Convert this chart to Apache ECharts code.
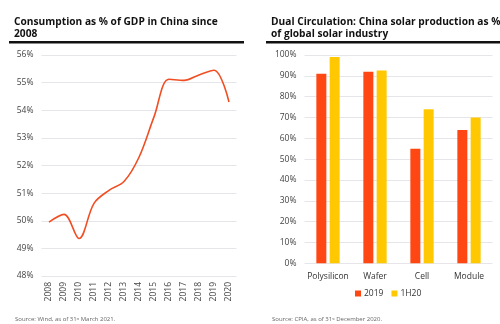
<!DOCTYPE html>
<html>
<head>
<meta charset="utf-8">
<script src="https://cdn.jsdelivr.net/npm/echarts@6/dist/echarts.min.js"></script>
<style>html,body{margin:0;padding:0;background:#fff;}#c{width:500px;height:324px;}</style>
</head>
<body>
<div id="c"></div>
<script>
var years = ['2008','2009','2010','2011','2012','2013','2014','2015','2016','2017','2018','2019','2020'];
var consumption = [49.95, 50.23, 49.36, 50.63, 51.1, 51.42, 52.3, 53.76, 55.12, 55.08, 55.28, 55.45, 54.3];
var yTicksLeft = [48, 49, 50, 51, 52, 53, 54, 55, 56];
var stages = ['Polysilicon', 'Wafer', 'Cell', 'Module'];
var share2019 = [91, 92, 55, 64];
var share1H20 = [99, 92.5, 74, 70];

var chart = echarts.init(document.getElementById('c'));
var axisTxt = {color: '#444', fontSize: 8.5, fontFamily: 'Open Sans'};
chart.setOption({
  animation: false,
  backgroundColor: '#fff',
  title: [
    {text: 'Consumption as % of GDP in China since\n2008', left: 9, top: 11,
     textStyle: {fontSize: 10.2, fontWeight: 'bold', color: '#111', fontFamily: 'Open Sans', lineHeight: 12}},
    {text: 'Dual Circulation: China solar production as %\nof global solar industry', left: 266, top: 11,
     textStyle: {fontSize: 10.2, fontWeight: 'bold', color: '#111', fontFamily: 'Open Sans', lineHeight: 12}},
    {text: 'Source: Wind, as of 31\u02e2\u1d57 March 2021.', left: 10, top: 311,
     textStyle: {fontSize: 6, fontWeight: 'normal', color: '#666', fontFamily: 'Open Sans'}},
    {text: 'Source: CPIA, as of 31\u02e2\u1d57 December 2020.', left: 267, top: 311,
     textStyle: {fontSize: 6, fontWeight: 'normal', color: '#666', fontFamily: 'Open Sans'}}
  ],
  graphic: [
    {type: 'rect', shape: {x: 9, y: 41, width: 235, height: 2.5}, style: {fill: '#111'}},
    {type: 'rect', shape: {x: 266, y: 41, width: 234, height: 2.5}, style: {fill: '#111'}}
  ],
  legend: {
    data: ['2019', '1H20'], left: 350, top: 284, itemWidth: 6, itemHeight: 6, itemGap: 8,
    icon: 'rect', textStyle: {fontSize: 8.5, color: '#333', fontFamily: 'Open Sans', padding: [0, 0, 0, -2]}
  },
  grid: [
    {left: 41.5, top: 55, width: 195, height: 221},
    {left: 304.5, top: 55, width: 188, height: 208.3}
  ],
  xAxis: [
    {type: 'category', gridIndex: 0, data: years, boundaryGap: true,
     axisLine: {show: false}, axisTick: {show: false},
     axisLabel: Object.assign({rotate: 90, margin: 6, interval: 0}, axisTxt)},
    {type: 'category', gridIndex: 1, data: stages,
     axisLine: {show: false}, axisTick: {show: false},
     axisLabel: Object.assign({margin: 9, interval: 0}, axisTxt, {fontSize: 8.5, color: '#333'})}
  ],
  yAxis: [
    {type: 'value', gridIndex: 0, min: 48, max: 56, interval: 1,
     axisLine: {show: false}, axisTick: {show: false},
     splitLine: {lineStyle: {color: '#e6e6ea', width: 1}},
     axisLabel: Object.assign({formatter: '{value}%', margin: 8}, axisTxt)},
    {type: 'value', gridIndex: 1, min: 0, max: 100, interval: 10,
     axisLine: {show: false}, axisTick: {show: false},
     splitLine: {lineStyle: {color: '#e6e6ea', width: 1}},
     axisLabel: Object.assign({formatter: '{value}%', margin: 8}, axisTxt)}
  ],
  series: [
    {type: 'line', xAxisIndex: 0, yAxisIndex: 0, data: consumption, smooth: 0.35,
     symbol: 'none', lineStyle: {color: '#F04E23', width: 1.6}},
    {name: '2019', type: 'bar', xAxisIndex: 1, yAxisIndex: 1, data: share2019,
     barWidth: 10, barGap: '33%', itemStyle: {color: '#FF4713'}},
    {name: '1H20', type: 'bar', xAxisIndex: 1, yAxisIndex: 1, data: share1H20,
     barWidth: 10, barGap: '33%', itemStyle: {color: '#FFC800'}}
  ]
});
</script>
</body>
</html>
